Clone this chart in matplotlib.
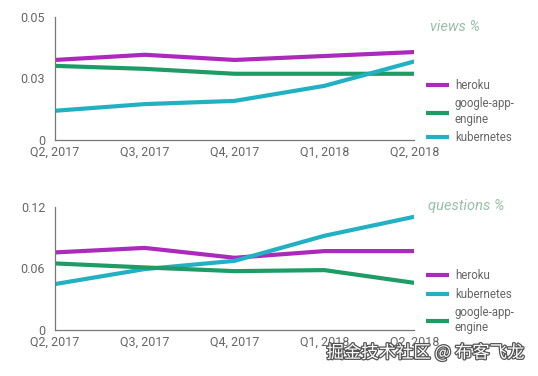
import matplotlib
matplotlib.use("Agg")
import matplotlib.pyplot as plt
import matplotlib.patheffects as pe

plt.rcParams['font.family'] = ['Roboto', 'DejaVu Sans']

quarters = ["Q2, 2017", "Q3, 2017", "Q4, 2017", "Q1, 2018", "Q2, 2018"]

# views %
views_heroku = [0.0324, 0.0345, 0.0324, 0.0340, 0.0356]
views_gae = [0.0300, 0.0288, 0.0268, 0.0268, 0.0268]
views_k8s = [0.0118, 0.0145, 0.0158, 0.0219, 0.0318]
views_ticks = [0, 0.025, 0.05]
views_ticklabels = ["0", "0.03", "0.05"]

# questions %
q_heroku = [0.0756, 0.0800, 0.0704, 0.0769, 0.0769]
q_k8s = [0.0448, 0.0594, 0.0674, 0.0918, 0.1103]
q_gae = [0.0649, 0.0610, 0.0574, 0.0584, 0.0460]
q_ticks = [0, 0.06, 0.12]
q_ticklabels = ["0", "0.06", "0.12"]

C_HEROKU = "#ac2abb"
C_GAE = "#1e9c66"
C_K8S = "#22b1c2"
GREY = "#666666"

fig = plt.figure(figsize=(5.38, 3.76), dpi=100)
ax1 = fig.add_axes([0.102, 0.628, 0.668, 0.328])
ax2 = fig.add_axes([0.102, 0.122, 0.668, 0.328])

x = list(range(len(quarters)))


def style(ax, ticks, ticklabels):
    ax.set_xlim(x[0], x[-1])
    ax.set_ylim(ticks[0], ticks[-1])
    ax.set_xticks(x)
    ax.set_xticklabels(quarters)
    ax.set_yticks(ticks)
    ax.set_yticklabels(ticklabels)
    ax.tick_params(length=0, labelsize=9, colors=GREY, pad=4)
    ax.tick_params(axis="y", pad=7)
    for s in ["top", "right"]:
        ax.spines[s].set_visible(False)
    for s in ["left", "bottom"]:
        ax.spines[s].set_color("#777777")
        ax.spines[s].set_linewidth(0.9)
    ax.set_facecolor("none")


lw = 3.0
ax1.plot(x, views_heroku, color=C_HEROKU, lw=lw, label="heroku", solid_capstyle="butt")
ax1.plot(x, views_gae, color=C_GAE, lw=lw, label="google-app-\nengine", solid_capstyle="butt")
ax1.plot(x, views_k8s, color=C_K8S, lw=lw, label="kubernetes", solid_capstyle="butt")
style(ax1, views_ticks, views_ticklabels)

ax2.plot(x, q_heroku, color=C_HEROKU, lw=lw, label="heroku", solid_capstyle="butt")
ax2.plot(x, q_k8s, color=C_K8S, lw=lw, label="kubernetes", solid_capstyle="butt")
ax2.plot(x, q_gae, color=C_GAE, lw=lw, label="google-app-\nengine", solid_capstyle="butt")
style(ax2, q_ticks, q_ticklabels)

for ax in (ax1, ax2):
    leg = ax.legend(loc="upper left", bbox_to_anchor=(1.02, 0.53), frameon=False,
                    fontsize=8.3, handlelength=2.0, handletextpad=0.5,
                    labelspacing=0.45, borderaxespad=0)
    for t in leg.get_texts():
        t.set_color(GREY)
        t.set_linespacing(1.25)

fig.text(0.80, 0.928, "views %", fontsize=10.5, color="#98bfa8", style="italic", va="center")
fig.text(0.795, 0.452, "questions %", fontsize=10.5, color="#98bfa8", style="italic", va="center")

fig.text(0.975, 0.062, "掘金技术社区 @ 布客飞龙", fontsize=12.5, color="white",
         ha="right", va="center", family=["Noto Sans CJK SC", "DejaVu Sans"],
         path_effects=[pe.withStroke(linewidth=1.8, foreground="#555555")])

fig.savefig("out.png", dpi=100)
